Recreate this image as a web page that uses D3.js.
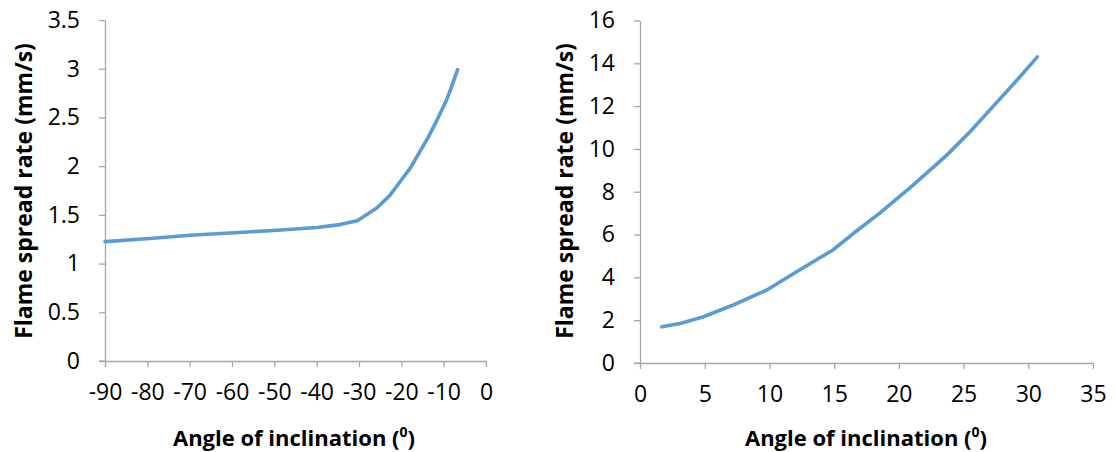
<!DOCTYPE html>
<html><head><meta charset="utf-8">
<script src="https://cdn.jsdelivr.net/npm/d3@7"></script>
<style>body{margin:0;background:#fff}svg{display:block}text{font-family:"Open Sans",sans-serif;fill:#000}</style>
</head><body>
<svg id="c" width="1116" height="452"></svg>
<script>
// Left chart: negative inclination
const leftAngle = [-90, -78.6, -69.9, -50.2, -40, -34.5, -30.4, -25.8, -22.7, -20.3, -17.9, -15.6, -13.6, -11.6, -9.3, -8.1, -6.7];
const leftRate  = [1.225, 1.26, 1.29, 1.34, 1.37, 1.40, 1.44, 1.57, 1.70, 1.84, 1.98, 2.15, 2.30, 2.47, 2.68, 2.82, 2.99];
const leftXTicks = [-90, -80, -70, -60, -50, -40, -30, -20, -10, 0];
const leftYTicks = [0, 0.5, 1, 1.5, 2, 2.5, 3, 3.5];
// Right chart: positive inclination
const rightAngle = [1.68, 3.1, 4.9, 7.2, 9.8, 12.1, 14.9, 16.5, 18.5, 21.1, 23.7, 25.5, 27.6, 29.1, 30.7];
const rightRate  = [1.69, 1.85, 2.16, 2.71, 3.41, 4.26, 5.28, 6.06, 6.99, 8.31, 9.71, 10.8, 12.2, 13.2, 14.3];
const rightXTicks = [0, 5, 10, 15, 20, 25, 30, 35];
const rightYTicks = [0, 2, 4, 6, 8, 10, 12, 14, 16];

const svg = d3.select("#c");
const lineColor = "#5B9BD5", axisColor = "#A6A6A6";
const fmt = d => String(d);

function panel(o) {
  const x = d3.scaleLinear().domain(o.xd).range(o.xr);
  const y = d3.scaleLinear().domain(o.yd).range(o.yr);
  const g = svg.append("g");
  const xa = g.append("g").attr("transform", `translate(0,${o.yr[0]})`)
    .call(d3.axisBottom(x).tickValues(o.xt).tickSize(6).tickSizeOuter(0).tickPadding(17).tickFormat(fmt));
  const ya = g.append("g").attr("transform", `translate(${o.xr[0]},0)`)
    .call(d3.axisLeft(y).tickValues(o.yt).tickSize(6).tickSizeOuter(0).tickPadding(19).tickFormat(fmt));
  [xa, ya].forEach(a => {
    a.select(".domain").attr("stroke", axisColor).attr("stroke-width", 1.3);
    a.selectAll(".tick line").attr("stroke", axisColor).attr("stroke-width", 1.3);
    a.selectAll(".tick text").attr("font-size", 23).attr("font-family", "Open Sans").attr("fill", "#000");
  });
  g.append("line").attr("x1", o.xr[0] - 6).attr("x2", o.xr[0]).attr("y1", o.yr[0]).attr("y2", o.yr[0]).attr("stroke", axisColor).attr("stroke-width", 1.3);
  const pts = o.xs.map((d, i) => [d, o.ys[i]]);
  g.append("path").datum(pts).attr("fill", "none").attr("stroke", lineColor).attr("stroke-width", 3.6)
    .attr("stroke-linejoin", "round").attr("stroke-linecap", "round")
    .attr("d", d3.line().x(d => x(d[0])).y(d => y(d[1])));
  const xt = g.append("text").attr("x", o.xtx).attr("y", 446).attr("text-anchor", "middle")
    .attr("font-size", 22).attr("font-weight", "bold");
  xt.append("tspan").text("Angle of inclination (");
  xt.append("tspan").text("0").attr("font-size", 14).attr("dy", -9);
  xt.append("tspan").text(")").attr("dy", 9);
  g.append("text").attr("transform", `translate(${o.ytx},191) rotate(-90)`).attr("text-anchor", "middle")
    .attr("font-size", 23).attr("font-weight", "bold").text("Flame spread rate (mm/s)");
}

panel({xd: [-90, 0], xr: [105, 486], yd: [0, 3.5], yr: [361, 20], xt: leftXTicks, yt: leftYTicks,
  xs: leftAngle, ys: leftRate, xtx: 294, ytx: 32});
panel({xd: [0, 35], xr: [640, 1093], yd: [0, 16], yr: [363, 20.5], xt: rightXTicks, yt: rightYTicks,
  xs: rightAngle, ys: rightRate, xtx: 866, ytx: 573});
</script>
</body></html>
